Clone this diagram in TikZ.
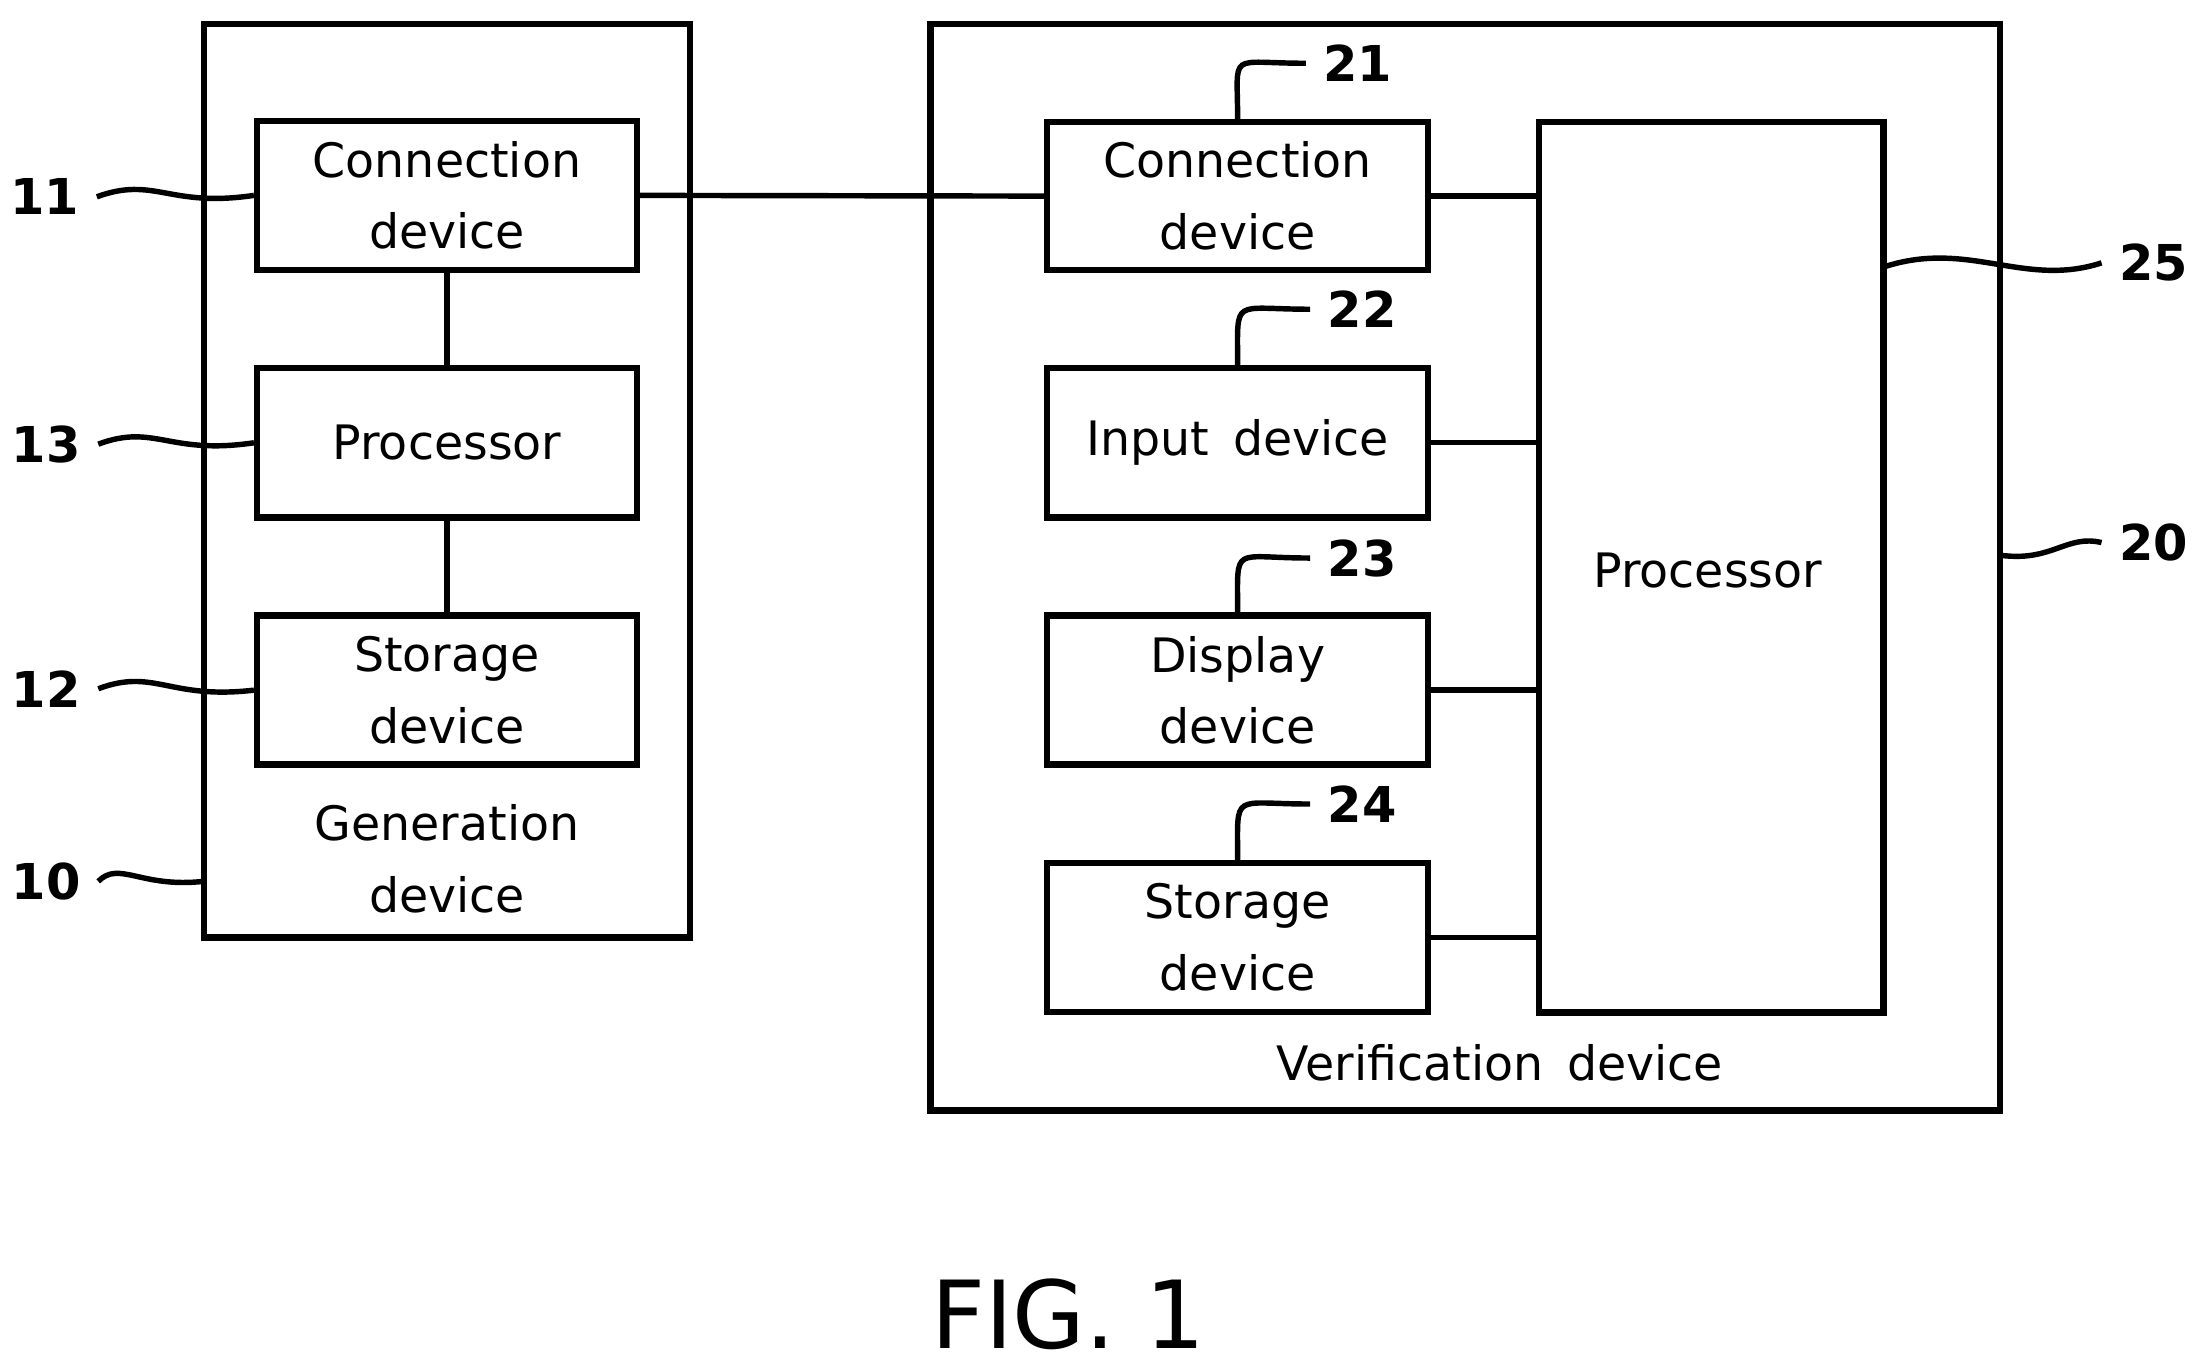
\documentclass[tikz,border=0pt]{standalone}
\usepackage{fontspec}
\setmainfont{DejaVu Sans}
\begin{document}
\begin{tikzpicture}[x=0.01cm,y=-0.01cm,
  box/.style={draw,line width=1.3pt},
  blk/.style={box,align=center,inner sep=1pt,font=\fontsize{9.6}{14.5}\selectfont},
  ln/.style={line width=1.1pt},
  lbl/.style={font=\fontsize{10}{12}\selectfont\bfseries}]
\useasboundingbox (0,0) rectangle (1568,975);
\draw[box] (145,17) rectangle (491,667);
\draw[box] (662,17) rectangle (1423,790);
\node[blk,minimum width=2.7cm,minimum height=1.06cm] (c11) at (318,139) {Connection\\device};
\node[blk,minimum width=2.7cm,minimum height=1.06cm] (p13) at (318,315) {Processor};
\node[blk,minimum width=2.7cm,minimum height=1.06cm] (s12) at (318,491) {Storage\\device};
\node[align=center,font=\fontsize{9.6}{14.5}\selectfont] (g) at (318,611) {Generation\\device};
\node[blk,minimum width=2.71cm,minimum height=1.05cm] (c21) at (880.5,139.5) {Connection\\device};
\node[blk,minimum width=2.71cm,minimum height=1.06cm] (i22) at (880.5,315) {Input\enspace device};
\node[blk,minimum width=2.71cm,minimum height=1.06cm] (d23) at (880.5,491) {Display\\device};
\node[blk,minimum width=2.71cm,minimum height=1.06cm] (s24) at (880.5,667) {Storage\\device};
\node[blk,minimum width=2.45cm,minimum height=6.33cm] (p25) at (1217.5,403.5) {};
\node[font=\fontsize{9.6}{14.5}\selectfont] (pt) at (1215,406) {Processor};
\node[font=\fontsize{9.6}{14.5}\selectfont] (v) at (1067,756) {Verification\enspace device};
\draw[ln] (c11.south) -- (p13.north);
\draw[ln] (p13.south) -- (s12.north);
\draw[ln] (c11.east) -- (c21.west);
\foreach \n in {c21,i22,d23,s24} \draw[ln] (\n.east) -- (\n.east -| p25.west);
% labels
\node[lbl] (l11) at (32,140) {11};
\node[lbl] (l13) at (33,316) {13};
\node[lbl] (l12) at (33,490) {12};
\node[lbl] (l10) at (33,627) {10};
\node[lbl] (l21) at (966,45) {21};
\node[lbl] (l22) at (969,220) {22};
\node[lbl] (l23) at (969,397) {23};
\node[lbl] (l24) at (969,572) {24};
\node[lbl] (l25) at (1532,187) {25};
\node[lbl] (l20) at (1532,386) {20};
\draw[ln] (l11.east) .. controls (110,125) and (120,148) .. (c11.west);
\draw[ln] (l13.east) .. controls (110,301) and (120,324) .. (p13.west);
\draw[ln] (l12.east) .. controls (110,475) and (120,498) .. (s12.west);
\draw[ln] (l10.east) .. controls (85,612) and (100,632) .. (145,627);
\foreach \n/\b in {l21/c21,l22/i22,l23/d23,l24/s24}
  \draw[ln] (\b.north) .. controls ([yshift=14pt]\b.north) and ([xshift=-16pt]\n.west) .. (\n.west);
\draw[ln] (1340,190) .. controls (1400,170) and (1440,205) .. (l25.west);
\draw[ln] (1423,395) .. controls (1460,400) and (1470,380) .. (l20.west);
\node[font=\fontsize{19}{22}\selectfont] (fig) at (760,935) {FIG.\ 1};
\end{tikzpicture}
\end{document}
